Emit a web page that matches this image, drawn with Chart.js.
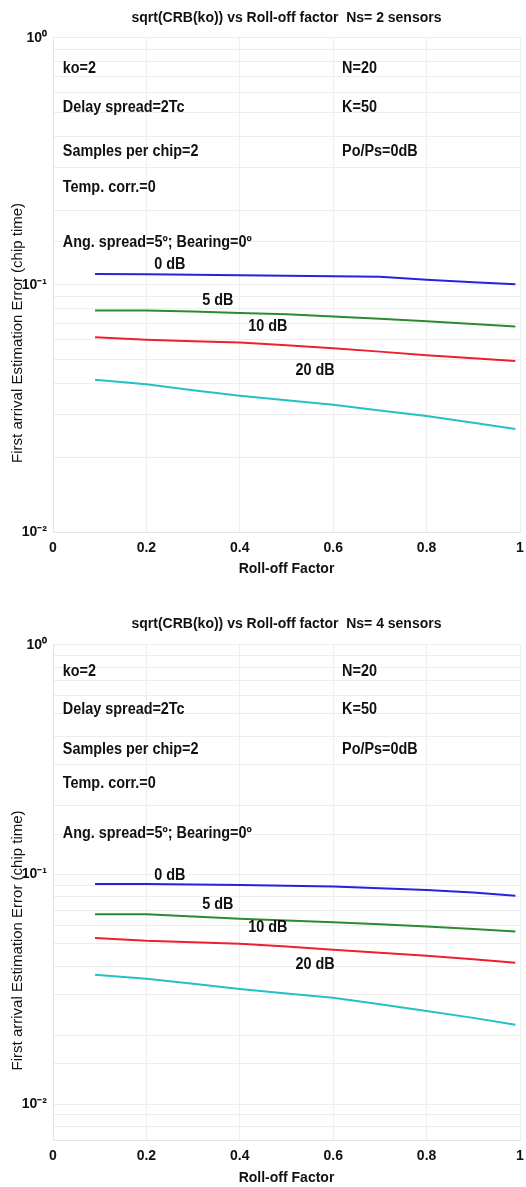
<!DOCTYPE html>
<html>
<head>
<meta charset="utf-8">
<script src="https://cdn.jsdelivr.net/npm/chart.js@4/dist/chart.umd.min.js"></script>
<style>
  body { margin: 0; background: #fff; }
  canvas { display: block; }
</style>
</head>
<body>
<canvas id="chartNs2" width="526" height="593"></canvas>
<canvas id="chartNs4" width="526" height="594"></canvas>
<script>
// roll-off factor samples (x)
const rollOff = [0.09, 0.2, 0.3, 0.4, 0.5, 0.6, 0.7, 0.8, 0.9, 0.99];
const snrLabels = ["0 dB", "5 dB", "10 dB", "20 dB"];
const lineColors = ["#2424e0", "#2b8a32", "#ec2030", "#22c2c4"];

// Ns = 2 sensors
const ns2_0dB = [0.1108, 0.1105, 0.1100, 0.1095, 0.1090, 0.1085, 0.1078, 0.1050, 0.1025, 0.1005];
const ns2_5dB = [0.0788, 0.0788, 0.0780, 0.0770, 0.0760, 0.0745, 0.0730, 0.0712, 0.0695, 0.0678];
const ns2_10dB = [0.0614, 0.0600, 0.0592, 0.0584, 0.0570, 0.0554, 0.0537, 0.0519, 0.0505, 0.0492];
const ns2_20dB = [0.0413, 0.0396, 0.0375, 0.0356, 0.0341, 0.0327, 0.0310, 0.0295, 0.0277, 0.0261];

// Ns = 4 sensors
const ns4_0dB = [0.0911, 0.0911, 0.0905, 0.0900, 0.0895, 0.0887, 0.0872, 0.0858, 0.0835, 0.0810];
const ns4_5dB = [0.0672, 0.0672, 0.0657, 0.0642, 0.0632, 0.0621, 0.0608, 0.0594, 0.0580, 0.0565];
const ns4_10dB = [0.0530, 0.0515, 0.0508, 0.0500, 0.0486, 0.0471, 0.0457, 0.0443, 0.0428, 0.0413];
const ns4_20dB = [0.0367, 0.0352, 0.0335, 0.0318, 0.0304, 0.0291, 0.0273, 0.0255, 0.0238, 0.0222];

const yTickLabels = { "0": "10⁰", "-1": "10⁻¹", "-2": "10⁻²" };
const infoLeft = ["ko=2", "Delay spread=2Tc", "Samples per chip=2", "Temp. corr.=0", "Ang. spread=5º; Bearing=0º"];
const infoRight = ["N=20", "K=50", "Po/Ps=0dB"];
const yTitle = "First arrival Estimation Error (chip time)";

const FONT = '"Liberation Sans", Arial, sans-serif';

// text inside the plot at data coordinates + the y axis title (sits a bit below centre like the original)
const plotTextPlugin = {
  id: "plotText",
  afterDatasetsDraw(chart, args, opts) {
    const { ctx, scales, chartArea } = chart;
    ctx.save();
    ctx.fillStyle = "#111";
    ctx.textBaseline = "middle";
    ctx.font = opts.font;
    opts.items.forEach((t) => {
      ctx.save();
      ctx.textAlign = t.align || "left";
      ctx.translate(scales.x.getPixelForValue(t.x), scales.y.getPixelForValue(t.y));
      ctx.scale(0.9, 1);
      ctx.fillText(t.text, 0, 0);
      ctx.restore();
    });
    ctx.font = "15px " + FONT;
    ctx.textAlign = "center";
    ctx.translate(18, (chartArea.top + chartArea.bottom) / 2 + opts.yTitleShift);
    ctx.rotate(-Math.PI / 2);
    ctx.fillText(yTitle, 0, 0);
    ctx.restore();
  },
};

function buildTextItems(infoY, rightX, dbPos) {
  const items = [];
  infoLeft.forEach((text, i) => items.push({ text, x: 0.021, y: infoY[i] }));
  infoRight.forEach((text, i) => items.push({ text, x: rightX, y: infoY[i] }));
  snrLabels.forEach((text, i) => items.push({ text, x: dbPos[i][0], y: dbPos[i][1], align: "center" }));
  return items;
}

function makeChart(id, opts) {
  const series = opts.series;
  return new Chart(document.getElementById(id), {
    type: "line",
    data: {
      labels: rollOff,
      datasets: series.map((values, i) => ({
        label: snrLabels[i],
        data: rollOff.map((x, j) => ({ x, y: values[j] })),
        borderColor: lineColors[i],
        borderWidth: 2,
        pointRadius: 0,
        tension: 0,
      })),
    },
    options: {
      responsive: false,
      animation: false,
      devicePixelRatio: 1,
      layout: { padding: { left: 0, right: 6, top: 0, bottom: opts.bottomPad } },
      plugins: {
        legend: { display: false },
        tooltip: { enabled: false },
        title: {
          display: true,
          fullSize: false,
          text: opts.title,
          color: "#111",
          font: { size: 14, weight: "bold", family: FONT },
          padding: opts.titlePadding,
        },
        plotText: { font: "bold 16px " + FONT, items: opts.textItems, yTitleShift: 48 },
      },
      scales: {
        x: {
          type: "linear",
          min: 0,
          max: 1,
          afterFit: (s) => {
            s.height = opts.xAxisHeight;
            s.paddingLeft = 0;
            s.paddingRight = 0;
          },
          ticks: {
            stepSize: 0.2,
            padding: 8,
            color: "#111",
            maxRotation: 0,
            font: { size: 14, weight: "bold", family: FONT },
            callback: (v) => String(+v.toFixed(1)),
          },
          grid: { color: "#eeeeee", drawTicks: false },
          border: { color: "#e4e4e4" },
          title: {
            display: true,
            text: "Roll-off Factor",
            color: "#111",
            padding: { top: 4, bottom: 0 },
            font: { size: 14, weight: "bold", family: FONT },
          },
        },
        y: {
          type: "logarithmic",
          min: opts.yMin,
          max: 1,
          afterFit: (s) => { s.width = 53; },
          ticks: {
            autoSkip: false,
            padding: 6,
            color: "#111",
            font: { size: 14, weight: "bold", family: FONT },
            callback: (v) => {
              const e = Math.log10(v);
              if (Math.abs(e - Math.round(e)) < 1e-6) return yTickLabels[String(Math.round(e))] || "";
              return "";
            },
          },
          grid: { color: "#eeeeee", drawTicks: false },
          border: { color: "#e4e4e4" },
        },
      },
    },
    plugins: [plotTextPlugin],
  });
}

makeChart("chartNs2", {
  title: "sqrt(CRB(ko)) vs Roll-off factor  Ns= 2 sensors",
  titlePadding: { top: 10, bottom: 11 },
  xAxisHeight: 46,
  bottomPad: 15,
  yMin: 0.01,
  series: [ns2_0dB, ns2_5dB, ns2_10dB, ns2_20dB],
  textItems: buildTextItems(
    [0.749, 0.521, 0.3455, 0.247, 0.149],
    0.619,
    [[0.25, 0.1205], [0.353, 0.0861], [0.46, 0.0676], [0.561, 0.0449]]
  ),
});

makeChart("chartNs4", {
  title: "sqrt(CRB(ko)) vs Roll-off factor  Ns= 4 sensors",
  titlePadding: { top: 23, bottom: 12 },
  xAxisHeight: 47,
  bottomPad: 0,
  yMin: 0.007,
  series: [ns4_0dB, ns4_5dB, ns4_10dB, ns4_20dB],
  textItems: buildTextItems(
    [0.763, 0.522, 0.3496, 0.2487, 0.1508],
    0.619,
    [[0.25, 0.099], [0.353, 0.0741], [0.46, 0.0588], [0.561, 0.0406]]
  ),
});
</script>
</body>
</html>
